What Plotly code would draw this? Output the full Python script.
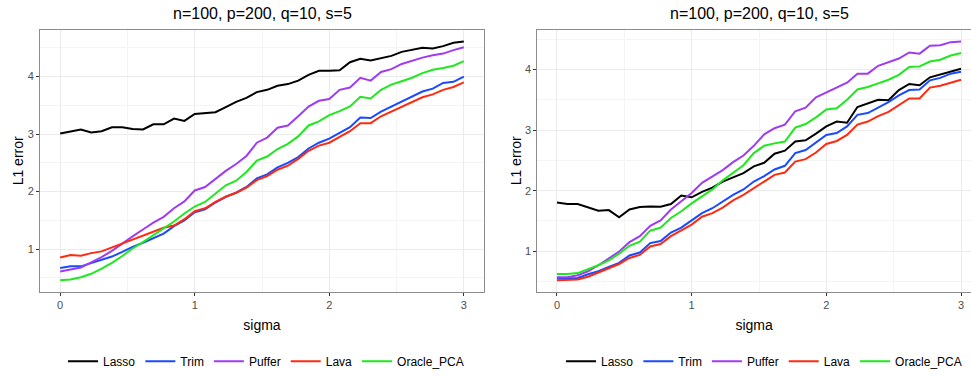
import numpy as np
import plotly.graph_objects as go

# ---------------- data ----------------
sigma = np.linspace(0, 3, 40)
methods = ["Lasso", "Trim", "Puffer", "Lava", "Oracle_PCA"]
colors = ["#000000", "#1a4aff", "#a03cf0", "#ff2a10", "#1ee81e"]

left_lasso = [3.01, 3.04, 3.08, 3.03, 3.05, 3.12, 3.12, 3.09, 3.08, 3.17,
              3.17, 3.27, 3.23, 3.35, 3.37, 3.38, 3.47, 3.56, 3.63, 3.73,
              3.77, 3.84, 3.87, 3.93, 4.03, 4.10, 4.10, 4.11, 4.25, 4.31,
              4.28, 4.32, 4.36, 4.43, 4.47, 4.50, 4.49, 4.53, 4.59, 4.61]
left_trim = [0.67, 0.70, 0.70, 0.76, 0.81, 0.87, 0.95, 1.04, 1.11, 1.19,
             1.27, 1.40, 1.50, 1.64, 1.69, 1.81, 1.91, 1.98, 2.08, 2.23,
             2.30, 2.42, 2.50, 2.60, 2.75, 2.85, 2.92, 3.02, 3.12, 3.29,
             3.28, 3.39, 3.48, 3.57, 3.66, 3.74, 3.79, 3.89, 3.91, 4.00]
left_puffer = [0.61, 0.645, 0.68, 0.77, 0.86, 0.97, 1.10, 1.22, 1.34, 1.46,
               1.56, 1.71, 1.83, 2.02, 2.08, 2.22, 2.36, 2.48, 2.62, 2.85,
               2.94, 3.11, 3.15, 3.31, 3.48, 3.58, 3.61, 3.77, 3.81, 3.98,
               3.93, 4.08, 4.13, 4.22, 4.28, 4.33, 4.37, 4.40, 4.46, 4.51]
left_lava = [0.855, 0.895, 0.885, 0.93, 0.96, 1.03, 1.10, 1.17, 1.24, 1.31,
             1.37, 1.41, 1.52, 1.66, 1.71, 1.82, 1.91, 1.98, 2.07, 2.20,
             2.27, 2.38, 2.45, 2.57, 2.71, 2.80, 2.85, 2.95, 3.05, 3.19,
             3.19, 3.31, 3.39, 3.48, 3.56, 3.64, 3.69, 3.77, 3.82, 3.90]
left_oracle = [0.46, 0.47, 0.51, 0.57, 0.66, 0.76, 0.88, 1.01, 1.12, 1.24,
               1.35, 1.48, 1.62, 1.74, 1.82, 1.97, 2.11, 2.19, 2.34, 2.54,
               2.61, 2.74, 2.83, 2.96, 3.15, 3.22, 3.33, 3.40, 3.48, 3.65,
               3.62, 3.77, 3.86, 3.92, 3.98, 4.06, 4.12, 4.15, 4.19, 4.27]

right_lasso = [1.805, 1.78, 1.78, 1.73, 1.67, 1.68, 1.56, 1.69, 1.73, 1.74,
               1.735, 1.78, 1.92, 1.89, 1.98, 2.05, 2.15, 2.22, 2.29, 2.40,
               2.46, 2.61, 2.66, 2.81, 2.83, 2.94, 3.06, 3.14, 3.12, 3.38,
               3.44, 3.50, 3.49, 3.66, 3.76, 3.74, 3.87, 3.92, 3.97, 4.01]
right_trim = [0.55, 0.55, 0.56, 0.62, 0.67, 0.74, 0.81, 0.93, 0.98, 1.135,
              1.17, 1.31, 1.39, 1.51, 1.63, 1.71, 1.82, 1.93, 2.02, 2.15,
              2.24, 2.35, 2.41, 2.62, 2.67, 2.79, 2.92, 2.95, 3.06, 3.25,
              3.28, 3.37, 3.46, 3.57, 3.66, 3.67, 3.82, 3.86, 3.93, 3.96]
right_puffer = [0.57, 0.57, 0.605, 0.67, 0.77, 0.88, 0.995, 1.15, 1.25, 1.42,
                1.51, 1.69, 1.82, 1.96, 2.13, 2.23, 2.34, 2.47, 2.58, 2.74,
                2.93, 3.03, 3.09, 3.31, 3.37, 3.54, 3.62, 3.69, 3.78, 3.93,
                3.93, 4.06, 4.12, 4.18, 4.28, 4.26, 4.39, 4.40, 4.45, 4.46]
right_lava = [0.524, 0.524, 0.535, 0.58, 0.65, 0.71, 0.79, 0.89, 0.94, 1.08,
              1.12, 1.25, 1.34, 1.44, 1.57, 1.63, 1.72, 1.84, 1.93, 2.04,
              2.15, 2.26, 2.30, 2.48, 2.52, 2.63, 2.77, 2.82, 2.92, 3.09,
              3.14, 3.23, 3.30, 3.41, 3.52, 3.52, 3.70, 3.73, 3.78, 3.83]
right_oracle = [0.627, 0.627, 0.64, 0.70, 0.77, 0.85, 0.96, 1.09, 1.16, 1.34,
                1.39, 1.55, 1.66, 1.79, 1.91, 2.02, 2.17, 2.29, 2.42, 2.62,
                2.74, 2.78, 2.81, 3.04, 3.10, 3.21, 3.34, 3.36, 3.50, 3.67,
                3.71, 3.77, 3.83, 3.91, 4.04, 4.05, 4.13, 4.16, 4.23, 4.27]

title_text = "n=100, p=200, q=10, s=5"
x_ticks = [0, 1, 2, 3]
y_ticks = [1, 2, 3, 4]

left_series = [left_lasso, left_trim, left_puffer, left_lava, left_oracle]
right_series = [right_lasso, right_trim, right_puffer, right_lava, right_oracle]

# ---------------- figure ----------------
W, H = 971, 376
FONT = "Liberation Sans, Arial, sans-serif"
fig = go.Figure()

for name, col, vals in zip(methods, colors, left_series):
    fig.add_trace(go.Scatter(x=sigma, y=vals, mode="lines", name=name,
                             line=dict(color=col, width=2),
                             xaxis="x", yaxis="y", legend="legend"))
for name, col, vals in zip(methods, colors, right_series):
    fig.add_trace(go.Scatter(x=sigma, y=vals, mode="lines", name=name,
                             line=dict(color=col, width=2),
                             xaxis="x2", yaxis="y2", legend="legend2"))


def yrange(series):
    lo = min(min(s) for s in series)
    hi = max(max(s) for s in series)
    pad = 0.05 * (hi - lo)
    return [lo - pad, hi + pad]


ydom = [1 - 296 / H, 1 - 30 / H]
grid = "#ebebeb"
minor_grid = "#f4f4f4"

common_x = dict(tickvals=x_ticks, ticks="outside", ticklen=3, tickcolor="#333333",
                tickfont=dict(size=11, color="#4d4d4d", family=FONT),
                showgrid=True, gridcolor=grid, gridwidth=1, zeroline=False,
                showline=True, linecolor="#8c8c8c", linewidth=1, mirror=True,
                minor=dict(tickvals=[0.5, 1.5, 2.5], showgrid=True,
                           gridcolor=minor_grid, gridwidth=0.6),
                title=dict(text="sigma", font=dict(size=14, color="black", family=FONT),
                           standoff=9))
common_y = dict(tickvals=y_ticks, ticks="outside", ticklen=3, tickcolor="#333333",
                tickfont=dict(size=11, color="#4d4d4d", family=FONT),
                showgrid=True, gridcolor=grid, gridwidth=1, zeroline=False,
                showline=True, linecolor="#8c8c8c", linewidth=1, mirror=True,
                minor=dict(tickvals=[0.5, 1.5, 2.5, 3.5, 4.5], showgrid=True,
                           gridcolor=minor_grid, gridwidth=0.6),
                title=dict(text="L1 error", font=dict(size=14, color="black", family=FONT),
                           standoff=0))

fig.update_layout(
    width=W, height=H, margin=dict(l=0, r=0, t=0, b=0),
    paper_bgcolor="white", plot_bgcolor="white",
    font=dict(family=FONT),
    xaxis=dict(domain=[40 / W, 484 / W], range=[-0.15, 3.15], anchor="y", **common_x),
    yaxis=dict(domain=ydom, range=yrange(left_series), anchor="x", **common_y),
    xaxis2=dict(domain=[537.3 / W, 1.0], range=[-0.146, 3.074], anchor="y2", **common_x),
    yaxis2=dict(domain=ydom, range=yrange(right_series), anchor="x2", **common_y),
    legend=dict(orientation="h", x=266 / W, xanchor="center", y=1 - 366 / H,
                yanchor="middle", font=dict(size=12, color="black", family=FONT),
                bgcolor="rgba(0,0,0,0)", itemwidth=30),
    legend2=dict(orientation="h", x=764 / W, xanchor="center", y=1 - 366 / H,
                 yanchor="middle", font=dict(size=12, color="black", family=FONT),
                 bgcolor="rgba(0,0,0,0)", itemwidth=30),
    annotations=[
        dict(text=title_text, x=262 / W, y=1 - 14 / H, xref="paper", yref="paper",
             xanchor="center", yanchor="middle", showarrow=False,
             font=dict(size=16, color="black", family=FONT)),
        dict(text=title_text, x=759 / W, y=1 - 14 / H, xref="paper", yref="paper",
             xanchor="center", yanchor="middle", showarrow=False,
             font=dict(size=16, color="black", family=FONT)),
    ],
)

fig.write_html("out.html")
